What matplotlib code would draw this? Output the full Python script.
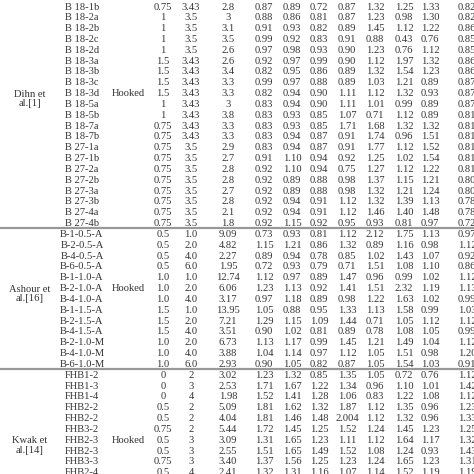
import matplotlib.pyplot as plt

# table rows: specimen, three geometry columns, eight ratio columns
dihn_specimens = ["B 18-1b", "B 18-2a", "B 18-2b", "B 18-2c", "B 18-2d", "B 18-3a", "B 18-3b",
                  "B 18-3c", "B 18-3d", "B 18-5a", "B 18-5b", "B 18-7a", "B 18-7b", "B 27-1a",
                  "B 27-1b", "B 27-2a", "B 27-2b", "B 27-3a", "B 27-3b", "B 27-4a", "B 27-4b"]
dihn_geom = [["0.75", "3.43", "2.8"], ["1", "3.5", "3"], ["1", "3.5", "3.1"], ["1", "3.5", "3.5"],
             ["1", "3.5", "2.6"], ["1.5", "3.43", "2.6"], ["1.5", "3.43", "3.4"], ["1.5", "3.43", "3.3"],
             ["1.5", "3.43", "3.3"], ["1", "3.43", "3"], ["1", "3.43", "3.8"], ["0.75", "3.43", "3.3"],
             ["0.75", "3.43", "3.3"], ["0.75", "3.5", "2.9"], ["0.75", "3.5", "2.7"], ["0.75", "3.5", "2.8"],
             ["0.75", "3.5", "2.8"], ["0.75", "3.5", "2.7"], ["0.75", "3.5", "2.8"], ["0.75", "3.5", "2.1"],
             ["0.75", "3.5", "1.8"]]
dihn_ratios = [
    "0.87 0.89 0.72 0.87 1.32 1.25 1.33 0.82", "0.88 0.86 0.81 0.87 1.23 0.98 1.30 0.82",
    "0.91 0.93 0.82 0.89 1.45 1.12 1.22 0.86", "0.99 0.92 0.83 0.91 0.88 0.43 0.76 0.85",
    "0.97 0.98 0.93 0.90 1.23 0.76 1.12 0.85", "0.92 0.97 0.99 0.90 1.12 1.97 1.32 0.86",
    "0.82 0.95 0.86 0.89 1.32 1.54 1.23 0.86", "0.99 0.97 0.88 0.89 1.03 1.21 0.89 0.87",
    "0.82 0.94 0.90 1.11 1.12 1.32 0.93 0.87", "0.83 0.94 0.90 1.11 1.01 0.99 0.89 0.87",
    "0.83 0.93 0.85 1.07 0.71 1.12 0.89 0.81", "0.83 0.93 0.85 1.71 1.68 1.32 1.32 0.81",
    "0.83 0.94 0.87 0.91 1.74 0.96 1.51 0.81", "0.83 0.94 0.87 0.91 1.77 1.12 1.52 0.81",
    "0.91 1.10 0.94 0.92 1.25 1.02 1.54 0.81", "0.92 1.10 0.94 0.75 1.27 1.12 1.22 0.81",
    "0.92 0.89 0.88 0.98 1.37 1.15 1.21 0.80", "0.92 0.89 0.88 0.98 1.32 1.21 1.24 0.80",
    "0.92 0.94 0.91 1.12 1.32 1.39 1.13 0.78", "0.92 0.94 0.91 1.12 1.46 1.40 1.48 0.78",
    "0.92 1.15 0.92 0.95 0.93 0.81 0.97 0.72"]

ashour_specimens = ["B-1-0.5-A", "B-2-0.5-A", "B-4-0.5-A", "B-6-0.5-A", "B-1-1.0-A", "B-2-1.0-A",
                    "B-4-1.0-A", "B-1-1.5-A", "B-2-1.5-A", "B-4-1.5-A", "B-2-1.0-M", "B-4-1.0-M",
                    "B-6-1.0-M"]
ashour_geom = [["0.5", "1.0", "9.09"], ["0.5", "2.0", "4.82"], ["0.5", "4.0", "2.27"], ["0.5", "6.0", "1.95"],
               ["1.0", "1.0", "12.74"], ["1.0", "2.0", "6.06"], ["1.0", "4.0", "3.17"], ["1.5", "1.0", "13.95"],
               ["1.5", "2.0", "7.21"], ["1.5", "4.0", "3.51"], ["1.0", "2.0", "6.73"], ["1.0", "4.0", "3.88"],
               ["1.0", "6.0", "2.93"]]
ashour_ratios = [
    "0.73 0.93 0.81 1.12 2.12 1.75 1.13 0.97", "1.15 1.21 0.86 1.32 0.89 1.16 0.98 1.12",
    "0.89 0.94 0.78 0.85 1.02 1.43 1.07 0.92", "0.72 0.93 0.79 0.71 1.51 1.08 1.10 0.86",
    "1.12 0.97 0.89 1.47 0.96 0.99 1.02 1.12", "1.23 1.13 0.92 1.41 1.51 2.32 1.19 1.13",
    "0.97 1.18 0.89 0.98 1.22 1.63 1.02 0.99", "1.05 0.88 0.95 1.33 1.13 1.58 0.99 1.03",
    "1.29 1.15 1.09 1.44 0.71 1.05 1.12 1.12", "0.90 1.02 0.81 0.89 0.78 1.08 1.05 0.99",
    "1.13 1.17 0.99 1.45 1.21 1.49 1.04 1.12", "1.04 1.14 0.97 1.12 1.05 1.51 0.98 1.20",
    "0.90 1.05 0.82 0.87 1.05 1.54 1.03 0.91"]

kwak_specimens = ["FHB1-2", "FHB1-3", "FHB1-4", "FHB2-2", "FHB2-2", "FHB3-2", "FHB2-3", "FHB2-3",
                  "FHB3-3", "FHB2-4"]
kwak_geom = [["0", "2", "3.02"], ["0", "3", "2.53"], ["0", "4", "1.98"], ["0.5", "2", "5.09"],
             ["0.5", "2", "4.04"], ["0.75", "2", "5.44"], ["0.5", "3", "3.09"], ["0.5", "3", "2.55"],
             ["0.75", "3", "3.40"], ["0.5", "4", "2.41"]]
kwak_ratios = [
    "1.23 1.32 0.85 1.35 1.05 0.72 0.76 1.12", "1.71 1.67 1.22 1.34 0.96 1.10 1.01 1.42",
    "1.52 1.41 1.28 1.06 0.83 1.22 1.08 1.12", "1.81 1.62 1.32 1.87 1.12 1.35 0.96 1.23",
    "1.81 1.46 1.48 2.004 1.12 1.32 0.96 1.33", "1.72 1.45 1.25 1.52 1.24 1.45 1.23 1.25",
    "1.31 1.65 1.23 1.11 1.12 1.64 1.17 1.32", "1.51 1.65 1.49 1.52 1.08 1.24 0.93 1.43",
    "1.37 1.56 1.25 1.23 1.24 1.65 1.23 1.31", "1.32 1.31 1.16 1.07 1.14 1.52 1.19 1.19"]

groups = [("Dihn et\nal.[1]", dihn_specimens, dihn_geom, dihn_ratios, 8.5, 8),
          ("Ashour et\nal.[16]", ashour_specimens, ashour_geom, ashour_ratios, 5.5, 5),
          ("Kwak et\nal.[14]", kwak_specimens, kwak_geom, kwak_ratios, 6.5, 6)]

geom_x = [163, 191, 228]
ratio_x = [264, 292, 319, 347, 375, 404, 430, 467]
y0, pitch = 7, 10.83

fig = plt.figure(figsize=(4.74, 4.74), dpi=100)
ax = fig.add_axes([0, 0, 1, 1])
ax.set_xlim(0, 474)
ax.set_ylim(474, 0)
ax.axis("off")
font = dict(family="Liberation Serif", fontsize=7.6, color="#333333", va="center", ha="center")

row = 0
for gi, (label, specs, geom, ratios, label_row, hook_row) in enumerate(groups):
    if gi > 0:
        ys = y0 + (row - 0.6) * pitch
        ax.plot([0, 474], [ys, ys], color="#999999", lw=1.6)
    ax.text(30, y0 + (row + label_row) * pitch, label, linespacing=1.1, **font)
    ax.text(128, y0 + (row + hook_row) * pitch, "Hooked", **font)
    for s, g, r in zip(specs, geom, ratios):
        y = y0 + row * pitch
        ax.text(82, y, s, **font)
        for x, v in zip(geom_x, g):
            ax.text(x, y, v, **font)
        for x, v in zip(ratio_x, r.split()):
            ax.text(x, y, v, **font)
        row += 1

fig.savefig("out.png", dpi=100)
